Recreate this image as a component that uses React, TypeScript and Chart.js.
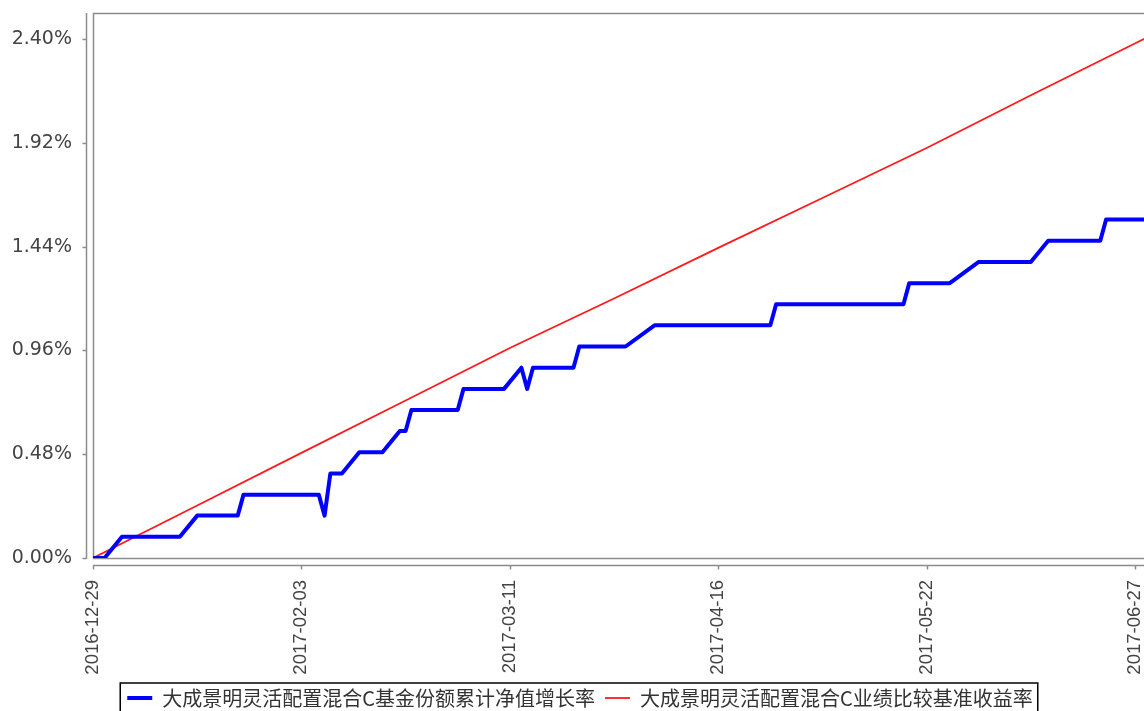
import React, { useEffect, useRef } from 'react';
import { Chart, registerables } from 'chart.js';

Chart.register(...registerables);

// ---- data ----
const xTickLabels = ['2016-12-29', '2017-02-03', '2017-03-11', '2017-04-16', '2017-05-22', '2017-06-27'];
const yTicks = [0, 0.48, 0.96, 1.44, 1.92, 2.4];

const seriesNames = ['大成景明灵活配置混合C基金份额累计净值增长率', '大成景明灵活配置混合C业绩比较基准收益率'];

const fundDates = [
  '2016-12-29', '2016-12-30', '2016-12-31', '2017-01-03', '2017-01-13', '2017-01-16', '2017-01-23', '2017-01-24',
  '2017-02-06', '2017-02-07', '2017-02-08', '2017-02-10', '2017-02-13', '2017-02-17', '2017-02-20', '2017-02-21',
  '2017-02-22', '2017-03-02', '2017-03-03', '2017-03-10', '2017-03-13', '2017-03-14', '2017-03-15', '2017-03-22',
  '2017-03-23', '2017-03-31', '2017-04-05', '2017-04-25', '2017-04-26', '2017-05-18', '2017-05-19', '2017-05-26',
  '2017-05-31', '2017-06-09', '2017-06-12', '2017-06-21', '2017-06-22', '2017-06-30',
];
const fundValues = [
  0, 0, 0, 0.098, 0.098, 0.196, 0.196, 0.293,
  0.293, 0.196, 0.391, 0.391, 0.489, 0.489, 0.587, 0.587,
  0.684, 0.684, 0.782, 0.782, 0.880, 0.782, 0.880, 0.880,
  0.978, 0.978, 1.076, 1.076, 1.173, 1.173, 1.271, 1.271,
  1.369, 1.369, 1.467, 1.467, 1.565, 1.565,
];

const benchDates = [
  '2016-12-29', '2017-01-16', '2017-02-03', '2017-02-21', '2017-03-11', '2017-03-29', '2017-04-16',
  '2017-05-04', '2017-05-22', '2017-06-09', '2017-06-28', '2017-06-30',
];
const benchValues = [0, 0.243, 0.486, 0.728, 0.971, 1.2, 1.434, 1.665, 1.896, 2.14, 2.393, 2.42];

// ---- helpers ----
const BASE = Date.UTC(2016, 11, 29);
function dayOf(s: string): number {
  const [y, m, d] = s.split('-').map(Number);
  return Math.round((Date.UTC(y, m - 1, d) - BASE) / 86400000);
}

const W = 1144;
const H = 711;
const PLOT_LEFT = 93;
const PLOT_BOTTOM = 558;
const BOTTOM_OVERFLOW = 7;
const LEGEND_SHIFT = 8;

const jfPlugin = {
  id: 'jfAxes',
  afterLayout(chart: any) {
    const lg = chart.legend;
    if (lg) {
      lg.left += LEGEND_SHIFT;
      lg.right += LEGEND_SHIFT;
    }
  },
  beforeDatasetsDraw(chart: any) {
    const { ctx, chartArea: a } = chart;
    ctx.save();
    ctx.strokeStyle = '#8c8c8c';
    ctx.lineWidth = 1.5;
    ctx.strokeRect(a.left + 0.5, a.top - 0.5, a.right - a.left + 10, a.bottom - a.top + 1);
    ctx.restore();
  },
  afterDraw(chart: any) {
    const { ctx, chartArea: a, scales } = chart;
    ctx.save();
    ctx.strokeStyle = '#8c8c8c';
    ctx.lineWidth = 1.5;
    // y axis line
    const ax = a.left - 6.5;
    ctx.beginPath();
    ctx.moveTo(ax, a.top - 1);
    ctx.lineTo(ax, a.bottom + 1);
    yTicks.forEach((v) => {
      const py = Math.round(scales.y.getPixelForValue(v)) + 0.5;
      ctx.moveTo(ax - 4, py);
      ctx.lineTo(ax, py);
    });
    // x axis line
    const ay = a.bottom + 7.5;
    ctx.moveTo(a.left, ay);
    ctx.lineTo(a.right, ay);
    xTickLabels.forEach((l) => {
      const px = Math.round(scales.x.getPixelForValue(dayOf(l))) + 0.5;
      ctx.moveTo(px, ay);
      ctx.lineTo(px, ay + 4);
    });
    ctx.stroke();
    // legend frame
    const lg = chart.legend;
    if (lg && lg.legendHitBoxes && lg.legendHitBoxes.length) {
      const hb = lg.legendHitBoxes;
      const first = hb[0];
      const last = hb[hb.length - 1];
      ctx.strokeStyle = '#000';
      ctx.lineWidth = 1.5;
      ctx.strokeRect(first.left - 7, first.top - 5, last.left + last.width - first.left + 12, 60);
    }
    ctx.restore();
  },
};

export default function App() {
  const ref = useRef<HTMLCanvasElement>(null);

  useEffect(() => {
    document.body.style.margin = '0';
    const canvas = ref.current;
    if (!canvas) return;
    const chart = new Chart(canvas, {
      type: 'line',
      data: {
        datasets: [
          {
            label: seriesNames[0],
            data: fundDates.map((d, i) => ({ x: dayOf(d), y: fundValues[i] })),
            borderColor: '#0000ff',
            backgroundColor: '#0000ff',
            borderWidth: 4,
            borderJoinStyle: 'round',
            pointRadius: 0,
            tension: 0,
          },
          {
            label: seriesNames[1],
            data: benchDates.map((d, i) => ({ x: dayOf(d), y: benchValues[i] })),
            borderColor: '#ff1a1a',
            backgroundColor: '#ff1a1a',
            borderWidth: 1.8,
            pointRadius: 0,
            tension: 0,
          },
        ],
      },
      options: {
        responsive: false,
        animation: false,
        events: [],
        layout: { padding: { top: 14, left: 0, right: 0, bottom: -BOTTOM_OVERFLOW } },
        plugins: {
          tooltip: { enabled: false },
          legend: {
            display: true,
            position: 'bottom',
            labels: {
              usePointStyle: true,
              pointStyle: 'line',
              pointStyleWidth: 25,
              boxHeight: 20,
              padding: 10,
              color: '#333',
              font: { family: '"Noto Sans CJK SC", sans-serif', size: 20 },
            },
          },
        },
        scales: {
          x: {
            type: 'linear',
            min: 0,
            max: 181.55,
            grid: { display: false, drawTicks: false },
            border: { display: false },
            afterBuildTicks: (scale: any) => {
              scale.ticks = xTickLabels.map((l) => ({ value: dayOf(l) }));
            },
            afterFit: (scale: any) => {
              const lg = scale.chart.legend;
              const lh = lg && lg.height ? lg.height : 40;
              scale.height = H + BOTTOM_OVERFLOW - lh - PLOT_BOTTOM;
              scale.paddingLeft = 0;
              scale.paddingRight = 0;
            },
            ticks: {
              autoSkip: false,
              minRotation: 90,
              maxRotation: 90,
              padding: 22,
              color: '#444',
              font: { family: '"Liberation Sans", Arial, sans-serif', size: 18.5 },
              callback: (value: any) => {
                const l = xTickLabels.find((t) => dayOf(t) === value);
                return l || '';
              },
            },
          },
          y: {
            type: 'linear',
            min: 0,
            max: 2.5156,
            grid: { display: false, drawTicks: false },
            border: { display: false },
            afterBuildTicks: (scale: any) => {
              scale.ticks = yTicks.map((v) => ({ value: v }));
            },
            afterFit: (scale: any) => {
              scale.width = PLOT_LEFT;
              scale.paddingTop = 0;
              scale.paddingBottom = 0;
            },
            ticks: {
              padding: 21,
              color: '#444',
              font: { family: '"DejaVu Sans", sans-serif', size: 19 },
              callback: (value: any) => Number(value).toFixed(2) + '%',
            },
          },
        },
      },
      plugins: [jfPlugin],
    } as any);
    return () => chart.destroy();
  }, []);

  return (
    <div style={{ width: W, height: H, overflow: 'hidden', background: '#fff' }}>
      <canvas ref={ref} width={W} height={H} style={{ display: 'block' }} />
    </div>
  );
}
